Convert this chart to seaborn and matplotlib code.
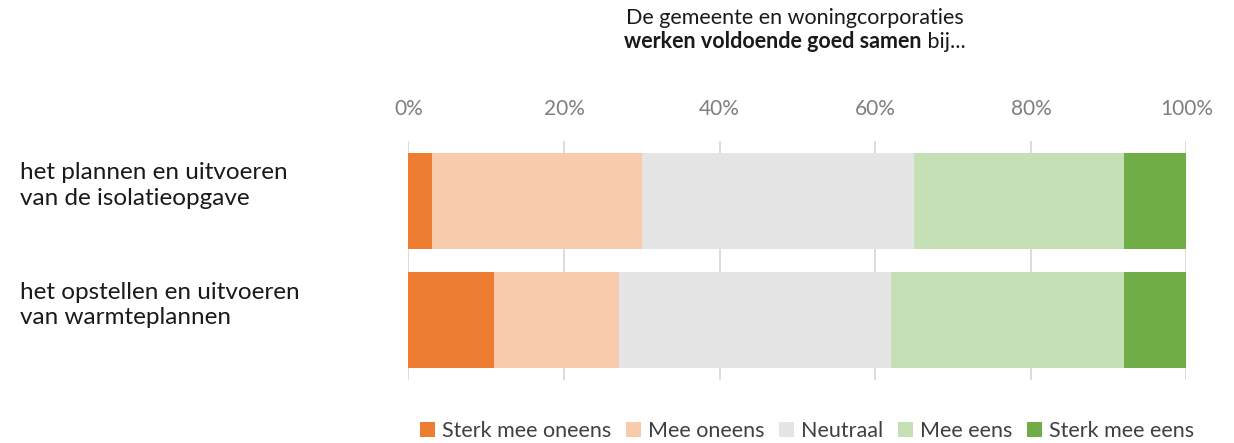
import matplotlib
matplotlib.use('Agg')
import matplotlib.pyplot as plt
import numpy as np
import pandas as pd
import seaborn as sns
from matplotlib.patches import Patch

# Data (percentages)
statements = ['het plannen en uitvoeren\nvan de isolatieopgave',
              'het opstellen en uitvoeren\nvan warmteplannen']
categories = ['Sterk mee oneens', 'Mee oneens', 'Neutraal', 'Mee eens', 'Sterk mee eens']
sterk_oneens = [3, 11]
oneens = [27, 16]
neutraal = [35, 35]
eens = [27, 30]
sterk_eens = [8, 8]
colors = ['#ED7D31', '#F8CBAD', '#E5E5E5', '#C5E0B4', '#70AD47']
x_ticks = [0, 20, 40, 60, 80, 100]

sns.set_theme(style='white')
plt.rcParams['font.family'] = ['Lato', 'DejaVu Sans']

df = pd.DataFrame({'stelling': statements,
                   categories[0]: sterk_oneens,
                   categories[1]: oneens,
                   categories[2]: neutraal,
                   categories[3]: eens,
                   categories[4]: sterk_eens})
cum = df[categories].cumsum(axis=1)
cum['stelling'] = df['stelling']

fig = plt.figure(figsize=(12.34, 4.43), dpi=100)
ax = fig.add_axes([0.331, 0.142, 0.6305, 0.540])

# stacked bars: draw cumulative totals from the widest down
for cat, col in reversed(list(zip(categories, colors))):
    sns.barplot(data=cum, x=cat, y='stelling', orient='h', color=col,
                width=0.8, saturation=1, linewidth=0, ax=ax, zorder=2)

ax.set_xlim(0, 100)
ax.set_ylim(1.5, -0.5)
ax.set_xticks(x_ticks)
ax.set_xticklabels([f'{t}%' for t in x_ticks])
ax.xaxis.tick_top()
ax.tick_params(axis='x', length=0, pad=16, labelsize=15, labelcolor='#7F7F7F')
ax.grid(axis='x', color='#D9D9D9', linewidth=1.3, zorder=0)
ax.set_axisbelow(True)
for s in ax.spines.values():
    s.set_visible(False)
ax.set_xlabel('')
ax.set_ylabel('')

# statement labels, left aligned at the figure edge, a bit above bar centre
ax.set_yticklabels([])
ax.tick_params(axis='y', length=0)
for i, txt in enumerate(statements):
    ax.annotate(txt, xy=(20 / 1234, i), xycoords=('figure fraction', 'data'),
                xytext=(0, 11), textcoords='offset points', ha='left', va='center',
                fontsize=17.5, color='#1A1A1A', linespacing=1.25, annotation_clip=False)

# title: regular first line, mixed bold/regular second line
cx = 795 / 1234
fig.text(cx, 1 - 18 / 443, 'De gemeente en woningcorporaties', ha='center', va='center',
         fontsize=15.5, color='#1A1A1A')
t_bold = fig.text(0, 1 - 42 / 443, 'werken voldoende goed samen', ha='left', va='center',
                  fontsize=15.5, fontweight='bold', color='#1A1A1A')
t_reg = fig.text(0, 1 - 42 / 443, ' bij...', ha='left', va='center',
                 fontsize=15.5, color='#1A1A1A')
renderer = fig.canvas.get_renderer()
fw = fig.bbox.width
wb = t_bold.get_window_extent(renderer).width / fw
wr = t_reg.get_window_extent(renderer).width / fw
start = cx - (wb + wr) / 2
t_bold.set_x(start)
t_reg.set_x(start + wb)

handles = [Patch(facecolor=c, edgecolor='none', label=l) for c, l in zip(colors, categories)]
fig.legend(handles=handles, loc='center', bbox_to_anchor=(807 / 1234, 1 - 431 / 443),
           ncol=5, frameon=False, fontsize=15.5, handlelength=0.7, handleheight=0.7,
           handletextpad=0.3, columnspacing=0.7, labelcolor='#404040')

fig.savefig('out.png', dpi=100)
